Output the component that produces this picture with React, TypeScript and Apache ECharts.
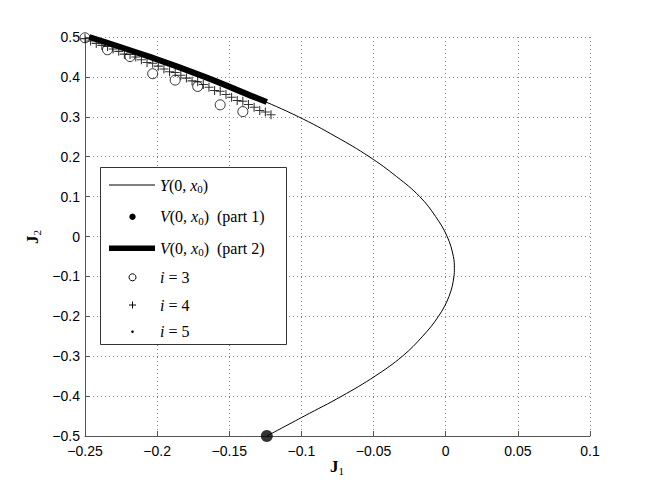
import React, { useEffect, useRef } from "react";
import * as echarts from "echarts";

// Y(0, x0) curve (J1, J2)
const curveJ1 = [-0.246, -0.205, -0.167, -0.133, -0.102, -0.076, -0.053, -0.034, -0.018, -0.007, 0.001, 0.0053, 0.006, 0.0057, 0.0023, -0.005, -0.016, -0.030, -0.049, -0.072, -0.098, -0.124];
const curveJ2 = [0.5, 0.45, 0.4, 0.35, 0.3, 0.25, 0.2, 0.15, 0.1, 0.05, 0.0, -0.05, -0.08, -0.1, -0.15, -0.2, -0.25, -0.3, -0.35, -0.4, -0.45, -0.5];

// V(0, x0) part 1 (single point)
const part1J1 = [-0.124];
const part1J2 = [-0.5];

// V(0, x0) part 2 (thick segment)
const part2J1 = [-0.247, -0.205, -0.167, -0.133, -0.124];
const part2J2 = [0.5, 0.45, 0.4, 0.35, 0.337];

// i = 3 (circles)
const circleJ1 = [-0.25, -0.2344, -0.2188, -0.2031, -0.1875, -0.1719, -0.1563, -0.1406];
const circleJ2 = [0.498, 0.468, 0.451, 0.408, 0.392, 0.376, 0.33, 0.313];

// i = 4 (plus)
const plusJ1 = [-0.25, -0.2461, -0.2422, -0.2383, -0.2344, -0.2305, -0.2266, -0.2227, -0.2188, -0.2148, -0.2109, -0.207, -0.2031, -0.1992, -0.1953, -0.1914, -0.1875, -0.1836, -0.1797, -0.1758, -0.1719, -0.168, -0.1641, -0.1602, -0.1563, -0.1523, -0.1484, -0.1445, -0.1406, -0.1367, -0.1328, -0.1289, -0.125, -0.1211];
const plusJ2 = [0.496, 0.49, 0.484, 0.479, 0.476, 0.47, 0.464, 0.457, 0.456, 0.45, 0.443, 0.436, 0.434, 0.427, 0.42, 0.413, 0.411, 0.404, 0.397, 0.39, 0.388, 0.381, 0.374, 0.366, 0.364, 0.356, 0.349, 0.341, 0.339, 0.331, 0.324, 0.316, 0.312, 0.305];

// i = 5 (dots, hidden under the thick line)
const dotJ1 = [-0.246, -0.226, -0.205, -0.186, -0.167, -0.15, -0.133];
const dotJ2 = [0.5, 0.475, 0.45, 0.425, 0.4, 0.375, 0.35];

const legendLabels = [
  "{i|Y}{r|(0, }{i|x}{s|0}{r|)}",
  "{i|V}{r|(0, }{i|x}{s|0}{r|)  (part 1)}",
  "{i|V}{r|(0, }{i|x}{s|0}{r|)  (part 2)}",
  "{i|i}{r| = 3}",
  "{i|i}{r| = 4}",
  "{i|i}{r| = 5}",
];

const zip = (a: number[], b: number[]) => a.map((v, k) => [v, b[k]]);

const PLUS = "path://M4.4,0 H5.6 V4.4 H10 V5.6 H5.6 V10 H4.4 V5.6 H0 V4.4 H4.4 Z";

const serif = "Liberation Serif";
const rich = {
  r: { fontFamily: serif, fontSize: 16, color: "#000" },
  i: { fontFamily: serif, fontSize: 16, fontStyle: "italic", color: "#000" },
  s: { fontFamily: serif, fontSize: 11, color: "#000", padding: [8, 0, 0, 0] },
  b: { fontFamily: serif, fontSize: 17, fontWeight: "bold", color: "#000" },
  bs: { fontFamily: serif, fontSize: 11, color: "#000", padding: [9, 0, 0, 0] },
};

const fmt = (v: number) => {
  const s = String(Number(v.toFixed(2)));
  return s.replace("-", "\u2212");
};

export default function App() {
  const ref = useRef<HTMLDivElement>(null);
  useEffect(() => {
    if (!ref.current) return;
    const chart = echarts.init(ref.current, undefined, { renderer: "svg" });

    const rowY = [185, 216.7, 248.3, 277.3, 305, 331.7];
    const mx = 132.5;
    const legendGraphics: any[] = [
      {
        type: "rect",
        shape: { x: 100.5, y: 167.5, width: 186, height: 177 },
        style: { fill: "#fff", stroke: "#333", lineWidth: 1 },
        z: 100,
      },
      {
        type: "line",
        shape: { x1: 109, y1: rowY[0], x2: 155, y2: rowY[0] },
        style: { stroke: "#000", lineWidth: 1 },
        z: 101,
      },
      {
        type: "circle",
        shape: { cx: mx, cy: rowY[1], r: 3.2 },
        style: { fill: "#000" },
        z: 101,
      },
      {
        type: "line",
        shape: { x1: 109, y1: rowY[2], x2: 155, y2: rowY[2] },
        style: { stroke: "#000", lineWidth: 5.5 },
        z: 101,
      },
      {
        type: "circle",
        shape: { cx: mx, cy: rowY[3], r: 3.5 },
        style: { fill: "none", stroke: "#000", lineWidth: 1 },
        z: 101,
      },
      {
        type: "line",
        shape: { x1: mx - 3.5, y1: rowY[4], x2: mx + 3.5, y2: rowY[4] },
        style: { stroke: "#000", lineWidth: 1 },
        z: 101,
      },
      {
        type: "line",
        shape: { x1: mx, y1: rowY[4] - 3.5, x2: mx, y2: rowY[4] + 3.5 },
        style: { stroke: "#000", lineWidth: 1 },
        z: 101,
      },
      {
        type: "circle",
        shape: { cx: mx, cy: rowY[5], r: 1.3 },
        style: { fill: "#000" },
        z: 101,
      },
      ...legendLabels.map((t, k) => ({
        type: "text",
        x: 160,
        y: rowY[k],
        z: 101,
        style: { text: t, rich, align: "left", verticalAlign: "middle" },
      })),
      {
        type: "text",
        x: 337,
        y: 466,
        style: { text: "{b|J}{bs|1}", rich, align: "center", verticalAlign: "middle" },
      },
      {
        type: "text",
        x: 32,
        y: 237,
        rotation: Math.PI / 2,
        style: { text: "{b|J}{bs|2}", rich, align: "center", verticalAlign: "middle" },
      },
    ];

    const gridLine = { show: true, lineStyle: { color: "#8a8a8a", type: [1, 3], width: 1 } };
    const axisLabel = {
      color: "#000",
      fontFamily: "Liberation Sans",
      fontSize: 14,
      formatter: (v: number) => fmt(v),
    };

    chart.setOption({
      animation: false,
      backgroundColor: "#fff",
      grid: { left: 85, right: 62, top: 37, bottom: 55 },
      xAxis: {
        type: "value",
        min: -0.25,
        max: 0.1,
        interval: 0.05,
        axisLine: { show: true, onZero: false, lineStyle: { color: "#555", width: 1 } },
        axisTick: { show: true, inside: true, length: 5, lineStyle: { color: "#555" } },
        axisLabel: { ...axisLabel, margin: 8 },
        splitLine: gridLine,
      },
      yAxis: {
        type: "value",
        min: -0.5,
        max: 0.5,
        interval: 0.1,
        axisLine: { show: true, onZero: false, lineStyle: { color: "#555", width: 1 } },
        axisTick: { show: true, inside: true, length: 5, lineStyle: { color: "#555" } },
        axisLabel: { ...axisLabel, margin: 5 },
        splitLine: gridLine,
      },
      series: [
        {
          name: "Y",
          type: "line",
          data: zip(curveJ1, curveJ2),
          smooth: 0.4,
          showSymbol: false,
          clip: false,
          lineStyle: { color: "#000", width: 1 },
          z: 2,
        },
        {
          name: "i5",
          type: "scatter",
          data: zip(dotJ1, dotJ2),
          symbol: "circle",
          symbolSize: 3,
          itemStyle: { color: "#000" },
          z: 3,
        },
        {
          name: "part2",
          type: "line",
          data: zip(part2J1, part2J2),
          smooth: 0.4,
          showSymbol: false,
          clip: false,
          lineStyle: { color: "#000", width: 6, cap: "butt" },
          z: 4,
        },
        {
          name: "i4",
          type: "scatter",
          data: zip(plusJ1, plusJ2),
          symbol: PLUS,
          symbolSize: 9,
          clip: false,
          itemStyle: { color: "#000" },
          z: 5,
        },
        {
          name: "i3",
          type: "scatter",
          data: zip(circleJ1, circleJ2),
          symbol: "circle",
          symbolSize: 10,
          clip: false,
          itemStyle: { color: "rgba(0,0,0,0)", borderColor: "#000", borderWidth: 1 },
          z: 6,
        },
        {
          name: "part1",
          type: "scatter",
          data: zip(part1J1, part1J2),
          symbol: "circle",
          symbolSize: 12,
          clip: false,
          itemStyle: { color: "#000" },
          z: 7,
        },
      ],
      graphic: legendGraphics,
    });
    return () => chart.dispose();
  }, []);
  return (
    <div
      ref={ref}
      style={{ position: "fixed", left: 0, top: 0, width: 652, height: 491, background: "#fff" }}
    />
  );
}
